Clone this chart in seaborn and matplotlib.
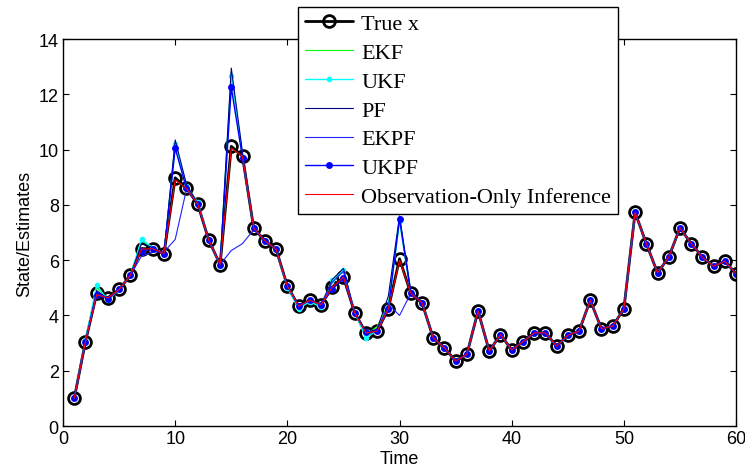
import matplotlib
matplotlib.use("Agg")
import matplotlib.pyplot as plt
import seaborn as sns
import numpy as np

time = list(range(1, 61))

true_x = [1.0, 3.05, 4.8, 4.64, 4.94, 5.45, 6.42, 6.41, 6.24, 8.98,
          8.6, 8.04, 6.72, 5.84, 10.12, 9.76, 7.16, 6.7, 6.39, 5.06,
          4.34, 4.55, 4.39, 5.02, 5.39, 4.1, 3.37, 3.43, 4.24, 6.05,
          4.8, 4.46, 3.19, 2.83, 2.35, 2.59, 4.16, 2.71, 3.31, 2.75,
          3.05, 3.37, 3.37, 2.89, 3.28, 3.43, 4.55, 3.52, 3.61, 4.24,
          7.73, 6.6, 5.54, 6.11, 7.17, 6.6, 6.11, 5.78, 5.96, 5.51]

ekf = [1.0, 3.05, 5.0, 4.6, 4.94, 5.45, 6.7, 6.45, 6.24, 10.25,
       8.7, 8.05, 6.72, 5.84, 12.8, 9.8, 7.16, 6.7, 6.39, 5.06,
       4.3, 4.55, 4.35, 5.25, 5.6, 4.1, 3.3, 3.6, 4.4, 7.45,
       4.8, 4.46, 3.19, 2.83, 2.35, 2.59, 4.16, 2.71, 3.31, 2.75,
       3.05, 3.37, 3.37, 2.89, 3.28, 3.43, 4.55, 3.52, 3.61, 4.24,
       7.73, 6.6, 5.54, 6.11, 7.17, 6.6, 6.11, 5.78, 5.96, 5.51]

ukf = [1.0, 3.1, 5.1, 4.55, 4.94, 5.45, 6.75, 6.45, 6.24, 10.2,
       8.7, 8.1, 6.72, 5.8, 12.65, 9.75, 7.16, 6.7, 6.39, 5.0,
       4.25, 4.5, 4.3, 5.3, 5.65, 4.1, 3.2, 3.45, 4.3, 7.4,
       4.85, 4.46, 3.19, 2.83, 2.35, 2.59, 4.16, 2.71, 3.31, 2.75,
       3.05, 3.37, 3.37, 2.89, 3.28, 3.43, 4.55, 3.52, 3.61, 4.24,
       7.73, 6.6, 5.54, 6.11, 7.17, 6.6, 6.11, 5.78, 5.96, 5.51]

pf = [1.0, 3.05, 4.9, 4.6, 4.94, 5.45, 6.6, 6.45, 6.24, 10.35,
      8.75, 8.05, 6.72, 5.84, 12.95, 9.9, 7.16, 6.7, 6.39, 5.06,
      4.34, 4.55, 4.39, 5.3, 5.7, 4.1, 3.37, 3.5, 4.7, 7.6,
      4.9, 4.46, 3.19, 2.83, 2.35, 2.59, 4.16, 2.71, 3.31, 2.75,
      3.05, 3.37, 3.37, 2.89, 3.28, 3.43, 4.55, 3.52, 3.61, 4.24,
      7.73, 6.6, 5.54, 6.11, 7.17, 6.6, 6.11, 5.78, 5.96, 5.51]

ekpf = [1.0, 3.05, 4.8, 4.64, 4.94, 5.45, 6.15, 6.3, 6.3, 6.75,
        8.55, 8.04, 6.72, 5.84, 6.35, 6.6, 7.1, 6.7, 6.39, 5.06,
        4.34, 4.55, 4.39, 5.2, 5.6, 4.1, 3.37, 3.43, 4.4, 4.0,
        4.8, 4.46, 3.19, 2.83, 2.35, 2.59, 4.16, 2.71, 3.31, 2.75,
        3.05, 3.37, 3.37, 2.89, 3.28, 3.43, 4.55, 3.52, 3.61, 4.24,
        7.73, 6.6, 5.54, 6.11, 7.17, 6.6, 6.11, 5.78, 5.96, 5.51]

ukpf = [1.0, 3.05, 4.75, 4.6, 4.94, 5.45, 6.35, 6.4, 6.24, 10.05,
        8.6, 8.04, 6.72, 5.84, 12.25, 9.7, 7.16, 6.7, 6.39, 5.06,
        4.34, 4.55, 4.39, 4.95, 5.35, 4.1, 3.4, 3.43, 4.24, 7.5,
        4.8, 4.46, 3.19, 2.83, 2.35, 2.59, 4.16, 2.71, 3.31, 2.75,
        3.05, 3.37, 3.37, 2.89, 3.28, 3.43, 4.55, 3.52, 3.61, 4.24,
        7.73, 6.6, 5.54, 6.11, 7.17, 6.6, 6.11, 5.78, 5.96, 5.51]

obs_only = [1.0, 3.05, 4.75, 4.64, 4.94, 5.45, 6.4, 6.41, 6.24, 8.9,
            8.6, 8.04, 6.72, 5.84, 10.05, 9.76, 7.16, 6.7, 6.39, 5.06,
            4.34, 4.55, 4.39, 5.02, 5.39, 4.1, 3.37, 3.43, 4.24, 6.0,
            4.8, 4.46, 3.19, 2.83, 2.35, 2.59, 4.16, 2.71, 3.31, 2.75,
            3.05, 3.37, 3.37, 2.89, 3.28, 3.43, 4.55, 3.52, 3.61, 4.24,
            7.73, 6.6, 5.54, 6.11, 7.17, 6.6, 6.11, 5.78, 5.96, 5.51]

x_ticks = [0, 10, 20, 30, 40, 50, 60]
y_ticks = [0, 2, 4, 6, 8, 10, 12, 14]

sns.set_theme(style="ticks")
plt.rcParams['font.family'] = ['Liberation Sans', 'DejaVu Sans']
plt.rcParams['axes.labelcolor'] = 'black'
plt.rcParams['text.color'] = 'black'

fig = plt.figure(figsize=(7.45, 4.77), dpi=100)
ax = fig.add_axes([0.0846, 0.1048, 0.9034, 0.8112])

sns.lineplot(x=time, y=true_x, ax=ax, color='black', linewidth=2.0,
             marker='o', markersize=8.5, markerfacecolor='none',
             markeredgecolor='black', markeredgewidth=2.0, label='True x')
sns.lineplot(x=time, y=ekf, ax=ax, color='#00ff00', linewidth=0.8, label='EKF')
sns.lineplot(x=time, y=ukf, ax=ax, color='#00ffff', linewidth=1.0,
             marker='o', markersize=4, markeredgewidth=0, markerfacecolor='#00ffff',
             label='UKF')
sns.lineplot(x=time, y=pf, ax=ax, color='#000080', linewidth=0.8, label='PF')
sns.lineplot(x=time, y=ekpf, ax=ax, color='#2020ff', linewidth=0.8, label='EKPF')
sns.lineplot(x=time, y=ukpf, ax=ax, color='#0000ff', linewidth=1.0,
             marker='o', markersize=5, markeredgewidth=0, markerfacecolor='#0000ff',
             label='UKPF')
sns.lineplot(x=time, y=obs_only, ax=ax, color='#ff0000', linewidth=0.8,
             label='Observation-Only Inference')

ax.set_xlim(0, 60)
ax.set_ylim(0, 14)
ax.set_xticks(x_ticks)
ax.set_yticks(y_ticks)
ax.tick_params(direction='in', top=True, right=True, length=4, width=0.8,
               labelsize=13, colors='black', pad=3)
for s in ax.spines.values():
    s.set_color('black')
    s.set_linewidth(1.0)
ax.set_xlabel('Time', fontsize=13, labelpad=2)
ax.set_ylabel('State/Estimates', fontsize=13, labelpad=4)

leg = ax.legend(loc='upper left', bbox_to_anchor=(0.349, 1.083),
                borderaxespad=0, frameon=True, fancybox=False,
                prop={'family': 'Liberation Serif', 'size': 16},
                handlelength=2.2, handletextpad=0.35, labelspacing=0.37,
                borderpad=0.3)
leg.get_frame().set_edgecolor('black')
leg.get_frame().set_linewidth(1.0)
leg.get_frame().set_alpha(1.0)
leg.set_zorder(10)

fig.savefig('out.png', dpi=100)
